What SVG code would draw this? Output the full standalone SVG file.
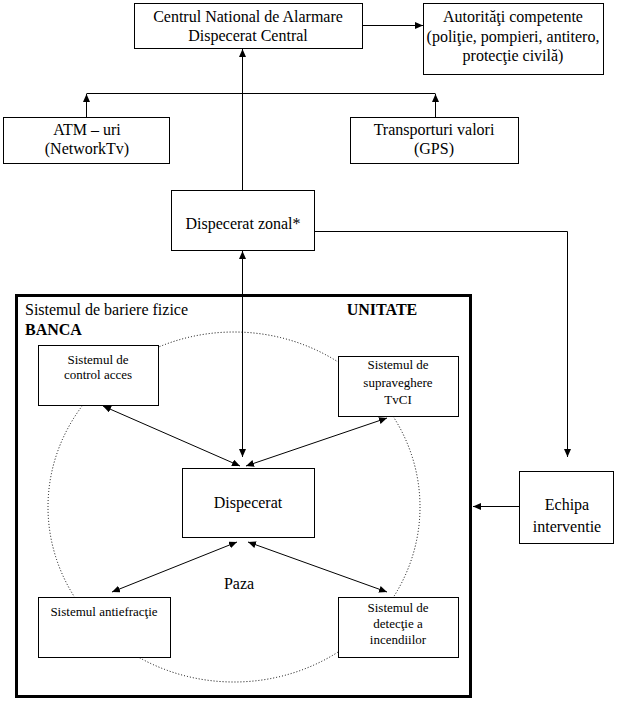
<svg xmlns="http://www.w3.org/2000/svg" width="618" height="702" viewBox="0 0 618 702">
<defs>
<marker id="ah" markerWidth="9" markerHeight="7" refX="8" refY="3.5" orient="auto-start-reverse" markerUnits="userSpaceOnUse">
<path d="M0,0 L8,3.5 L0,7 z" fill="#000"/>
</marker>
<style>
.box{fill:#fff;stroke:#000;stroke-width:1}
.ln{fill:none;stroke:#000;stroke-width:1}
.t{font-family:'Liberation Serif','Times New Roman',serif;font-size:16px;fill:#000;text-anchor:middle}
.s{font-family:'Liberation Serif','Times New Roman',serif;font-size:13px;fill:#000;text-anchor:middle}
.b{font-weight:bold}
</style>
</defs>
<rect width="618" height="702" fill="#fff"/>

<g id="unitate" font-family="Liberation Serif, serif">
<rect x="16.5" y="295.5" width="454" height="401" fill="none" stroke="#000" stroke-width="3"/>
<text class="t" x="25" y="315" style="text-anchor:start">Sistemul de bariere fizice</text>
<text class="t b" x="382" y="315">UNITATE</text>
<text class="t b" x="25" y="335" style="text-anchor:start">BANCA</text>
<ellipse cx="234" cy="507" rx="186" ry="175" fill="none" stroke="#000" stroke-width="1" stroke-dasharray="1 2"/>
<text class="t" x="239" y="589">Paza</text>
</g>

<g id="connectors">
<line class="ln" x1="362" y1="25.5" x2="423" y2="25.5" marker-end="url(#ah)"/>
<line class="ln" x1="242.5" y1="190" x2="242.5" y2="49" marker-end="url(#ah)"/>
<line class="ln" x1="86.5" y1="93.5" x2="435.5" y2="93.5"/>
<line class="ln" x1="86.5" y1="117" x2="86.5" y2="94" marker-end="url(#ah)"/>
<line class="ln" x1="435.5" y1="117" x2="435.5" y2="94" marker-end="url(#ah)"/>
<line class="ln" x1="242.5" y1="251" x2="242.5" y2="457" marker-start="url(#ah)" marker-end="url(#ah)"/>
<polyline class="ln" points="314,231.5 567.5,231.5 567.5,457" marker-end="url(#ah)"/>
<line class="ln" x1="519" y1="506.5" x2="473" y2="506.5" marker-end="url(#ah)"/>
<line class="ln" x1="103" y1="406" x2="240" y2="466" marker-start="url(#ah)" marker-end="url(#ah)"/>
<line class="ln" x1="387" y1="418" x2="246" y2="466" marker-start="url(#ah)" marker-end="url(#ah)"/>
<line class="ln" x1="112" y1="592" x2="237" y2="542" marker-start="url(#ah)" marker-end="url(#ah)"/>
<line class="ln" x1="387" y1="592" x2="248" y2="542" marker-start="url(#ah)" marker-end="url(#ah)"/>
</g>

<g id="centrul" font-family="Liberation Serif, serif">
<rect class="box" x="134.5" y="3.5" width="228" height="45"/>
<text class="t" x="248" y="22">Centrul National de Alarmare</text>
<text class="t" x="248" y="41">Dispecerat Central</text>
</g>

<g id="autoritati" font-family="Liberation Serif, serif">
<rect class="box" x="423.5" y="3.5" width="180" height="71"/>
<text class="t" x="513" y="22">Autorităţi competente</text>
<text class="t" x="513" y="42">(poliţie, pompieri, antitero,</text>
<text class="t" x="513" y="61">protecţie civilă)</text>
</g>

<g id="atm" font-family="Liberation Serif, serif">
<rect class="box" x="3.5" y="117.5" width="166" height="46"/>
<text class="t" x="87" y="135">ATM – uri</text>
<text class="t" x="87" y="154">(NetworkTv)</text>
</g>

<g id="transporturi" font-family="Liberation Serif, serif">
<rect class="box" x="350.5" y="117.5" width="168" height="46"/>
<text class="t" x="434" y="135">Transporturi valori</text>
<text class="t" x="434" y="154">(GPS)</text>
</g>

<g id="zonal" font-family="Liberation Serif, serif">
<rect class="box" x="171.5" y="190.5" width="143" height="60"/>
<text class="t" x="243" y="229">Dispecerat zonal*</text>
</g>

<g id="control-acces" font-family="Liberation Serif, serif">
<rect class="box" x="38.5" y="345.5" width="120" height="60"/>
<text class="s" x="98" y="364">Sistemul de</text>
<text class="s" x="98" y="379">control acces</text>
</g>

<g id="tvci" font-family="Liberation Serif, serif">
<rect class="box" x="338.5" y="356.5" width="120" height="60"/>
<text class="s" x="398" y="369">Sistemul de</text>
<text class="s" x="398" y="387">supraveghere</text>
<text class="s" x="398" y="404">TvCI</text>
</g>

<g id="dispecerat" font-family="Liberation Serif, serif">
<rect class="box" x="182.5" y="468.5" width="132" height="69"/>
<text class="t" x="248" y="508">Dispecerat</text>
</g>

<g id="antiefractie" font-family="Liberation Serif, serif">
<rect class="box" x="38.5" y="597.5" width="132" height="60"/>
<text class="s" x="104" y="616">Sistemul antiefracţie</text>
</g>

<g id="incendii" font-family="Liberation Serif, serif">
<rect class="box" x="338.5" y="597.5" width="120" height="60"/>
<text class="s" x="398" y="612">Sistemul de</text>
<text class="s" x="398" y="628">detecţie a</text>
<text class="s" x="398" y="644">incendiilor</text>
</g>

<g id="echipa" font-family="Liberation Serif, serif">
<rect class="box" x="519.5" y="471.5" width="94" height="72"/>
<text class="t" x="567" y="510">Echipa</text>
<text class="t" x="567" y="532">interventie</text>
</g>
</svg>
